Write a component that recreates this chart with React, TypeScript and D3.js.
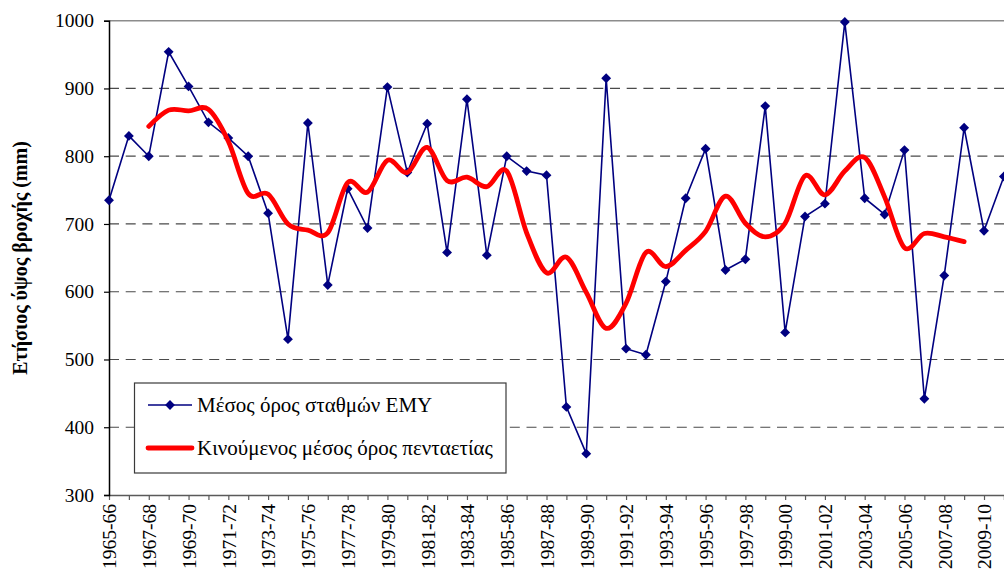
import * as d3 from 'd3';
import React, { useEffect, useRef } from 'react';

const years = [
  '1965-66', '1966-67', '1967-68', '1968-69', '1969-70', '1970-71', '1971-72', '1972-73',
  '1973-74', '1974-75', '1975-76', '1976-77', '1977-78', '1978-79', '1979-80', '1980-81',
  '1981-82', '1982-83', '1983-84', '1984-85', '1985-86', '1986-87', '1987-88', '1988-89',
  '1989-90', '1990-91', '1991-92', '1992-93', '1993-94', '1994-95', '1995-96', '1996-97',
  '1997-98', '1998-99', '1999-00', '2000-01', '2001-02', '2002-03', '2003-04', '2004-05',
  '2005-06', '2006-07', '2007-08', '2008-09', '2009-10', '2010-11',
];

// annual mean of the stations (mm)
const stationMean = [
  735, 830, 800, 954, 903, 850, 827, 800, 716, 530,
  849, 610, 752, 694, 902, 776, 848, 658, 884, 654,
  800, 778, 772, 430, 361, 915, 516, 507, 615, 738,
  811, 632, 648, 874, 540, 711, 730, 998, 738, 714,
  809, 442, 624, 842, 690, 770,
];

// five-year moving mean, 1967-68 .. 2008-09
const movingYears = years.slice(2, 44);
const movingMean = [
  844, 868, 867, 869, 822, 745, 744, 700, 691, 687,
  761, 747, 794, 776, 813, 764, 769, 755, 778, 687,
  628, 651, 599, 546, 583, 658, 637, 661, 689, 741,
  701, 681, 701, 771, 743, 778, 798, 740, 665, 686,
  681, 674,
];

const yTicks = [300, 400, 500, 600, 700, 800, 900, 1000];
const legendLabels = ['Μέσος όρος σταθμών ΕΜΥ', 'Κινούμενος μέσος όρος πενταετίας'];

const W = 1004;
const H = 581;
const FONT = "'Liberation Serif', 'Times New Roman', Times, 'DejaVu Serif', serif";

export default function App() {
  const svgRef = useRef<SVGSVGElement>(null);

  useEffect(() => {
    const svg = d3.select(svgRef.current);
    svg.selectAll('*').remove();

    const left = 109;
    const top = 20.7;
    const bottom = 495;

    const x = d3.scalePoint<string>().domain(years).range([left, 1003.9]);
    const y = d3.scaleLinear().domain([300, 1000]).range([bottom, top]);

    // grid
    svg
      .append('g')
      .selectAll('line')
      .data(yTicks.filter(t => t > 300))
      .join('line')
      .attr('x1', left)
      .attr('x2', W)
      .attr('y1', d => y(d))
      .attr('y2', d => y(d))
      .attr('stroke', d => (d === 1000 ? '#8c8c8c' : '#4a4a4a'))
      .attr('stroke-width', d => (d === 1000 ? 1.5 : 1.2))
      .attr('stroke-dasharray', d => (d === 1000 ? null : '10,6.7'));

    // x axis
    const xAxis = d3
      .axisBottom(x)
      .tickSize(5)
      .tickFormat((d, i) => (i % 2 === 0 ? d : ''));
    const gx = svg
      .append('g')
      .attr('transform', `translate(0,${bottom})`)
      .call(xAxis)
      .attr('font-family', null)
      .attr('font-size', null);
    gx.select('.domain').attr('d', `M${left},0.5H${W}`).attr('stroke', '#5a5a5a').attr('stroke-width', 1.5);
    gx.selectAll('.tick line').attr('stroke', '#5a5a5a').attr('stroke-width', 1.2);
    gx.selectAll('.tick text')
      .style('font-family', FONT)
      .style('font-size', '19.5px')
      .attr('fill', '#000')
      .attr('transform', 'rotate(-90)')
      .attr('text-anchor', 'end')
      .attr('x', -9)
      .attr('y', 0)
      .attr('dy', '0.35em');

    // y axis
    const yAxis = d3
      .axisLeft(y)
      .tickValues(yTicks)
      .tickFormat(d3.format('d'))
      .tickSize(5)
      .tickPadding(10);
    const gy = svg
      .append('g')
      .attr('transform', `translate(${left},0)`)
      .call(yAxis)
      .attr('font-family', null)
      .attr('font-size', null);
    gy.select('.domain').attr('stroke', '#000').attr('stroke-width', 1.5);
    gy.selectAll('.tick line').attr('stroke', '#000').attr('stroke-width', 1.2);
    gy.selectAll('.tick text')
      .style('font-family', FONT)
      .style('font-size', '19.5px')
      .attr('fill', '#000');

    svg
      .append('text')
      .attr('transform', `translate(27,258) rotate(-90)`)
      .attr('text-anchor', 'middle')
      .style('font-family', FONT)
      .style('font-weight', 'bold')
      .style('font-size', '20px')
      .text('Ετήσιος ύψος βροχής (mm)');

    // station mean
    const line = d3
      .line<number>()
      .x((d, i) => x(years[i]) as number)
      .y(d => y(d));
    svg
      .append('path')
      .datum(stationMean)
      .attr('d', line)
      .attr('fill', 'none')
      .attr('stroke', '#000080')
      .attr('stroke-width', 1.6);

    const diamond = d3.symbol(d3.symbolDiamond2, 62);
    svg
      .append('g')
      .selectAll('path')
      .data(stationMean)
      .join('path')
      .attr('d', diamond)
      .attr('transform', (d, i) => `translate(${x(years[i])},${y(d)})`)
      .attr('fill', '#000080');

    // moving mean
    const smooth = d3
      .line<number>()
      .x((d, i) => x(movingYears[i]) as number)
      .y(d => y(d))
      .curve(d3.curveCatmullRom.alpha(0));
    svg
      .append('path')
      .datum(movingMean)
      .attr('d', smooth)
      .attr('fill', 'none')
      .attr('stroke', '#ff0000')
      .attr('stroke-width', 4.8)
      .attr('stroke-linecap', 'round')
      .attr('stroke-linejoin', 'round');

    // legend
    const lg = svg.append('g');
    lg.append('rect')
      .attr('x', 134.5)
      .attr('y', 383)
      .attr('width', 371.5)
      .attr('height', 90)
      .attr('fill', '#fff')
      .attr('stroke', '#3a3a3a')
      .attr('stroke-width', 1.2);

    const rows = lg
      .selectAll('g')
      .data(legendLabels)
      .join('g')
      .attr('transform', (d, i) => `translate(0,${405 + i * 43})`);
    rows
      .append('line')
      .attr('x1', 148)
      .attr('x2', 192)
      .attr('stroke', (d, i) => (i === 0 ? '#000080' : '#ff0000'))
      .attr('stroke-width', (d, i) => (i === 0 ? 1.6 : 4.8))
      .attr('stroke-linecap', (d, i) => (i === 0 ? 'butt' : 'round'));
    rows
      .filter((d, i) => i === 0)
      .append('path')
      .attr('d', diamond)
      .attr('transform', 'translate(170,0)')
      .attr('fill', '#000080');
    rows
      .append('text')
      .attr('x', 197)
      .attr('dy', '0.35em')
      .style('font-family', FONT)
      .style('font-size', '21px')
      .text(d => d);
  }, []);

  return (
    <div style={{ position: 'absolute', left: 0, top: 0 }}>
      <svg ref={svgRef} width={W} height={H} style={{ display: 'block', background: '#fff' }} />
    </div>
  );
}
